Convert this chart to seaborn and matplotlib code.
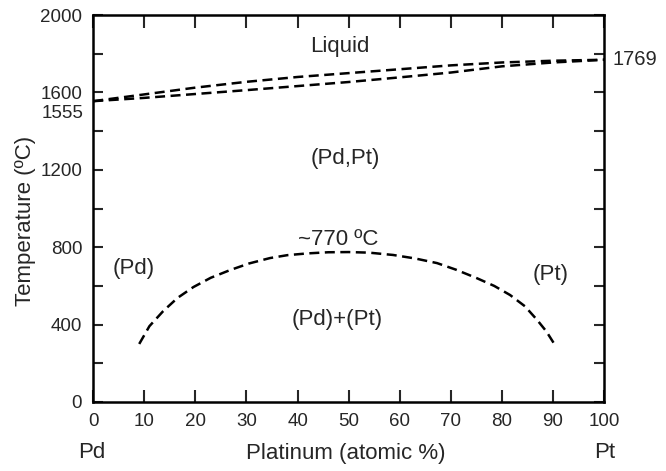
import matplotlib
matplotlib.use("Agg")
import numpy as np
import matplotlib.pyplot as plt
import seaborn as sns

# liquidus / solidus (Pd-Pt)
pt_liq = [0, 10, 20, 30, 40, 50, 60, 70, 80, 90, 100]
t_liquidus = [1555, 1590, 1625, 1655, 1680, 1700, 1720, 1740, 1755, 1764, 1769]
t_solidus = [1555, 1572, 1592, 1612, 1633, 1654, 1678, 1703, 1735, 1755, 1769]

# miscibility gap
pt_gap = [9, 11, 13.7, 16.5, 19.6, 23, 26.8, 30.5, 34.6, 38, 41.9, 46, 50, 54, 58.7,
          63, 67.3, 71, 75.1, 78.5, 81.6, 84.5, 86.9, 88.7, 90.5]
t_gap = [300, 392, 470, 538, 594, 642, 682, 716, 744, 759, 768, 774, 775, 772, 760,
         742, 718, 684, 640, 600, 553, 495, 424, 365, 290]

y_major = [0, 400, 800, 1200, 1600, 2000]
y_minor = [200, 600, 1000, 1400, 1800]
x_ticks = list(range(0, 101, 10))

sns.set_style("ticks")
plt.rcParams['font.family'] = ['Liberation Sans', 'DejaVu Sans']

fig = plt.figure(figsize=(6.66, 4.71), dpi=100)
ax = fig.add_axes([0.14, 0.1465, 0.767, 0.8215])

dash = dict(color='black', linewidth=1.8, linestyle=(0, (4, 2.2)))
sns.lineplot(x=pt_liq, y=t_liquidus, ax=ax, **dash)
sns.lineplot(x=pt_liq, y=t_solidus, ax=ax, **dash)
sns.lineplot(x=pt_gap, y=t_gap, ax=ax, sort=False, **dash)

ax.set_xlim(0, 100)
ax.set_ylim(0, 2000)
ax.set_xticks(x_ticks)
ax.set_yticks(y_major)
ax.set_yticks(y_minor, minor=True)
ax.tick_params(axis='both', which='both', direction='in', top=True, right=True,
               width=1.5, labelsize=13.5, pad=8)
ax.tick_params(axis='both', which='major', length=9)
ax.tick_params(axis='y', which='both', length=7)
for s in ax.spines.values():
    s.set_linewidth(1.8)
    s.set_color('black')

ax.text(-2, 1490, '1555', ha='right', va='center', fontsize=13.5)
ax.text(1.016, 1769, '1769', ha='left', va='center', fontsize=14.5,
        transform=ax.get_yaxis_transform(), clip_on=False)

fs = 16
ax.text(48.3, 1835, 'Liquid', ha='center', va='center', fontsize=fs)
ax.text(49.3, 1261, '(Pd,Pt)', ha='center', va='center', fontsize=fs)
ax.text(48, 840, '~770 ºC', ha='center', va='center', fontsize=fs)
ax.text(8, 692, '(Pd)', ha='center', va='center', fontsize=fs)
ax.text(89.6, 661, '(Pt)', ha='center', va='center', fontsize=fs)
ax.text(47.7, 424, '(Pd)+(Pt)', ha='center', va='center', fontsize=fs)

ax.set_xlabel('')
ax.set_ylabel('')
fig.text(26 / 666, 1 - 221 / 471, 'Temperature (ºC)', rotation=90,
         ha='center', va='center', fontsize=fs)
fig.text(346 / 666, 1 - 454 / 471, 'Platinum (atomic %)', ha='center', va='center', fontsize=fs)
fig.text(92 / 666, 1 - 453 / 471, 'Pd', ha='center', va='center', fontsize=fs)
fig.text(605 / 666, 1 - 453 / 471, 'Pt', ha='center', va='center', fontsize=fs)

fig.savefig('out.png', dpi=100)
